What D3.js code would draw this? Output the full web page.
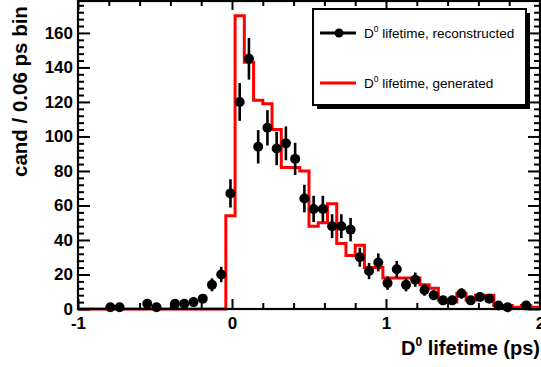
<!DOCTYPE html>
<html>
<head>
<meta charset="utf-8">
<script src="https://cdn.jsdelivr.net/npm/d3@7"></script>
<style>
  body { margin: 0; background: #fff; }
  svg { display: block; }
  text { font-family: "Liberation Sans", Arial, Helvetica, sans-serif; }
</style>
</head>
<body>
<svg id="chart" width="541" height="367"></svg>
<script>
// ---- data ----
const binLow = -1.0;
const binWidth = 0.06;
// generated (red histogram), 50 bins from -1 to 2
const generated = [
  0,0,0,0,0,0,0,0,0,0,0,0,0,0,0,0,
  54,170,143,121,119,104,82,82,80,48,50,61,38,31,37,24,24,18,18,18,18,14,12,5,4,9,5,8,8,2,2,1,2,1
];
// reconstructed (black points), 50 bins
const reconstructed = [
  0,0,0,1,1,0,0,3,1,0,3,3,4,6,14,20,
  67,120,145,94,105,93,96,87,64,58,58,48,48,46,30,22,27,15,23,14,17,11,8,5,5,9,5,7,6,2,1,0,2,0
];
const xTickLabels = ["-1","0","1","2"];
const yTickValues = [0,20,40,60,80,100,120,140,160];
const legendLabels = ["lifetime, reconstructed","lifetime, generated"];
const xTitle = " lifetime (ps)";
const yTitle = "cand / 0.06 ps bin";

// ---- layout ----
const svg = d3.select("#chart");
const L = 78, R = 540, T = 1, B = 309;
const yMax = 178.5;
const x = d3.scaleLinear().domain([-1, 2]).range([L, R]);
const y = d3.scaleLinear().domain([0, yMax]).range([B, T]);

svg.append("rect").attr("width",541).attr("height",367).attr("fill","#fff");

// ---- generated histogram (step outline) ----
const pts = [[x(binLow), y(0)]];
generated.forEach((v,i) => {
  const x0 = x(binLow + i*binWidth), x1 = x(binLow + (i+1)*binWidth);
  pts.push([x0, y(v)]); pts.push([x1, y(v)]);
});
pts.push([x(binLow + generated.length*binWidth), y(0)]);
svg.append("path")
  .attr("d", d3.line()(pts))
  .attr("fill","none").attr("stroke","#ff0000").attr("stroke-width",3)
  .attr("stroke-linejoin","miter");

// ---- axes ----
const tickStyle = g => { g.select(".domain").remove(); g.selectAll("line").attr("stroke","#000").attr("stroke-width",2); };
const fontTick = g => g.selectAll("text").attr("font-size",17).attr("font-weight","bold").attr("fill","#000").attr("font-family","'Liberation Sans', Arial, sans-serif");

const xMajor = [-1,0,1,2];
const xMinor = d3.range(-1, 2.0001, 0.2).map(v => +v.toFixed(2)).filter(v => !xMajor.includes(v));
const yMinor = d3.range(0, yMax, 4).filter(v => v % 20 !== 0);

// bottom
svg.append("g").attr("transform",`translate(0,${B})`)
  .call(d3.axisBottom(x).tickValues(xMajor).tickSizeInner(-10).tickSizeOuter(0).tickPadding(8)
        .tickFormat((d,i) => xTickLabels[i]))
  .call(tickStyle).call(fontTick);
svg.append("g").attr("transform",`translate(0,${B})`)
  .call(d3.axisBottom(x).tickValues(xMinor).tickSizeInner(-6).tickSizeOuter(0).tickFormat(""))
  .call(tickStyle);
// top
svg.append("g").attr("transform",`translate(0,${T})`)
  .call(d3.axisTop(x).tickValues(xMajor).tickSizeInner(-9).tickSizeOuter(0).tickFormat(""))
  .call(tickStyle);
svg.append("g").attr("transform",`translate(0,${T})`)
  .call(d3.axisTop(x).tickValues(xMinor).tickSizeInner(-5).tickSizeOuter(0).tickFormat(""))
  .call(tickStyle);
// left
svg.append("g").attr("transform",`translate(${L},0)`)
  .call(d3.axisLeft(y).tickValues(yTickValues).tickSizeInner(-12).tickSizeOuter(0).tickPadding(5)
        .tickFormat(d3.format("d")))
  .call(tickStyle).call(fontTick);
svg.append("g").attr("transform",`translate(${L},0)`)
  .call(d3.axisLeft(y).tickValues(yMinor).tickSizeInner(-6).tickSizeOuter(0).tickFormat(""))
  .call(tickStyle);
// right
svg.append("g").attr("transform",`translate(${R},0)`)
  .call(d3.axisRight(y).tickValues(yTickValues).tickSizeInner(-12).tickSizeOuter(0).tickFormat(""))
  .call(tickStyle);
svg.append("g").attr("transform",`translate(${R},0)`)
  .call(d3.axisRight(y).tickValues(yMinor).tickSizeInner(-6).tickSizeOuter(0).tickFormat(""))
  .call(tickStyle);

// frame
svg.append("rect").attr("x",L).attr("y",T).attr("width",R-L).attr("height",B-T)
  .attr("fill","none").attr("stroke","#000").attr("stroke-width",2.2);

// ---- reconstructed points ----
const recData = reconstructed.map((v,i) => ({c: binLow + (i+0.5)*binWidth, v}))
  .filter(d => d.v > 0);
const gp = svg.append("g");
gp.selectAll("line.err").data(recData).join("line")
  .attr("class","err")
  .attr("x1", d => x(d.c)).attr("x2", d => x(d.c))
  .attr("y1", d => y(d.v - Math.sqrt(d.v))).attr("y2", d => y(d.v + Math.sqrt(d.v)))
  .attr("stroke","#000").attr("stroke-width",2.6);
gp.selectAll("circle").data(recData).join("circle")
  .attr("cx", d => x(d.c)).attr("cy", d => y(d.v)).attr("r",5).attr("fill","#000");

// ---- titles ----
const xt = svg.append("text").attr("x",540).attr("y",355).attr("text-anchor","end")
  .attr("font-size",20).attr("font-weight","bold").attr("fill","#000");
xt.append("tspan").text("D");
xt.append("tspan").attr("font-size",12).attr("dy",-9).text("0");
xt.append("tspan").attr("dy",9).text(xTitle);

svg.append("text").attr("transform","translate(27,177) rotate(-90)")
  .attr("text-anchor","start").attr("font-size",20.5).attr("font-weight","bold").attr("fill","#000")
  .text(yTitle);

// ---- legend ----
const lg = svg.append("g");
lg.append("rect").attr("x",317).attr("y",13).attr("width",213).attr("height",96).attr("fill","#000");
lg.append("rect").attr("x",313).attr("y",9).attr("width",213).attr("height",96)
  .attr("fill","#fff").attr("stroke","#000").attr("stroke-width",2);
const entries = [
  {label: legendLabels[0], color: "#000", marker: true, ly: 33},
  {label: legendLabels[1], color: "#ff0000", marker: false, ly: 83}
];
entries.forEach(e => {
  lg.append("line").attr("x1",320).attr("x2",356).attr("y1",e.ly).attr("y2",e.ly)
    .attr("stroke",e.color).attr("stroke-width",3);
  if (e.marker) lg.append("circle").attr("cx",339).attr("cy",e.ly).attr("r",4.5).attr("fill","#000");
  const t = lg.append("text").attr("x",364).attr("y",e.ly+5).attr("font-size",13.5).attr("fill","#000");
  t.append("tspan").text("D");
  t.append("tspan").attr("font-size",8.5).attr("dy",-6).text("0");
  t.append("tspan").attr("dy",6).text(" " + e.label);
});
</script>
</body>
</html>
